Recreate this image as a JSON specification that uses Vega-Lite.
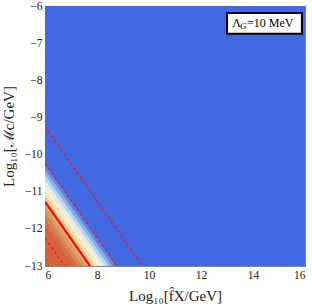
{
  "$schema": "https://vega.github.io/schema/vega-lite/v6.json",
  "width": 260,
  "height": 260,
  "autosize": "none",
  "padding": {"left": 45, "top": 6, "right": 7, "bottom": 41},
  "background": "white",
  "config": {
    "view": {"stroke": "#888", "strokeWidth": 1},
    "axis": {
      "grid": false,
      "domainColor": "#888",
      "tickColor": "#777",
      "labelFont": "Liberation Serif",
      "labelFontSize": 11.5,
      "labelColor": "#222",
      "titleFont": "Liberation Serif",
      "titleFontSize": 15,
      "titleFontWeight": "normal",
      "titleColor": "#222"
    }
  },
  "datasets": {
    "bg": [{"x": 6, "x2": 16, "y": -13, "y2": -6}],
    "bands": [
      {"b": "b01", "x": 6, "y": -10.26}, {"b": "b01", "x": 8.74, "y": -13},
      {"b": "b02", "x": 6, "y": -10.40}, {"b": "b02", "x": 8.60, "y": -13},
      {"b": "b03", "x": 6, "y": -10.54}, {"b": "b03", "x": 8.46, "y": -13},
      {"b": "b04", "x": 6, "y": -10.68}, {"b": "b04", "x": 8.32, "y": -13},
      {"b": "b05", "x": 6, "y": -10.82}, {"b": "b05", "x": 8.18, "y": -13},
      {"b": "b06", "x": 6, "y": -10.96}, {"b": "b06", "x": 8.04, "y": -13},
      {"b": "b07", "x": 6, "y": -11.10}, {"b": "b07", "x": 7.90, "y": -13},
      {"b": "b08", "x": 6, "y": -11.24}, {"b": "b08", "x": 7.76, "y": -13},
      {"b": "b09", "x": 6, "y": -11.40}, {"b": "b09", "x": 7.60, "y": -13},
      {"b": "b10", "x": 6, "y": -11.56}, {"b": "b10", "x": 7.44, "y": -13},
      {"b": "b11", "x": 6, "y": -11.72}, {"b": "b11", "x": 7.28, "y": -13},
      {"b": "b12", "x": 6, "y": -11.90}, {"b": "b12", "x": 7.10, "y": -13}
    ],
    "solid": [{"l": "s", "x": 6, "y": -11.27}, {"l": "s", "x": 7.73, "y": -13}],
    "dashed": [
      {"l": "d1", "x": 6, "y": -9.25}, {"l": "d1", "x": 9.75, "y": -13},
      {"l": "d2", "x": 6, "y": -10.24}, {"l": "d2", "x": 8.76, "y": -13},
      {"l": "d3", "x": 6, "y": -12.25}, {"l": "d3", "x": 6.75, "y": -13}
    ],
    "box": [{"x": 13.0, "x2": 15.88, "y": -6.19, "y2": -6.75}]
  },
  "layer": [
    {
      "data": {"name": "bg"},
      "mark": {"type": "rect", "color": "#4169E1"},
      "encoding": {
        "x": {"field": "x", "type": "quantitative", "scale": {"domain": [6, 16], "nice": false, "zero": false},
              "axis": {"orient": "bottom", "values": [6, 8, 10, 12, 14, 16], "tickSize": -4, "labelPadding": 7, "title": "Log₁₀[f̂X/GeV]", "titlePadding": 8}},
        "x2": {"field": "x2"},
        "y": {"field": "y", "type": "quantitative", "scale": {"domain": [-13, -6], "nice": false, "zero": false},
              "axis": {"orient": "left", "values": [-13, -12, -11, -10, -9, -8, -7, -6], "tickSize": -4, "labelPadding": 7, "title": "Log₁₀[ℳc/GeV]", "titlePadding": 8}},
        "y2": {"field": "y2"}
      }
    },
    {
      "data": {"name": "bands"},
      "mark": {"type": "area", "clip": true, "interpolate": "linear"},
      "encoding": {
        "x": {"field": "x", "type": "quantitative", "axis": null},
        "y": {"field": "y", "type": "quantitative", "axis": null, "stack": null},
        "y2": {"datum": -13},
        "color": {"field": "b", "type": "nominal", "legend": null,
          "scale": {"domain": ["b01","b02","b03","b04","b05","b06","b07","b08","b09","b10","b11","b12"],
                    "range": ["#5A87E6","#86AEEA","#B6D4EE","#DDECEF","#F3F0D4","#F2E2B0","#EBCB90","#E3B27A","#DD9A66","#D98655","#D67044","#D4623A"]}}
      }
    },
    {
      "data": {"name": "dashed"},
      "mark": {"type": "line", "clip": true, "color": "#EE1C24", "strokeWidth": 1.3, "strokeDash": [3, 2.5]},
      "encoding": {
        "x": {"field": "x", "type": "quantitative", "axis": null},
        "y": {"field": "y", "type": "quantitative", "axis": null},
        "detail": {"field": "l"}
      }
    },
    {
      "data": {"name": "solid"},
      "mark": {"type": "line", "clip": true, "color": "#FF0A0A", "strokeWidth": 2.2},
      "encoding": {
        "x": {"field": "x", "type": "quantitative", "axis": null},
        "y": {"field": "y", "type": "quantitative", "axis": null}
      }
    },
    {
      "data": {"name": "box"},
      "mark": {"type": "rect", "fill": "white", "stroke": "black", "strokeWidth": 2},
      "encoding": {
        "x": {"field": "x", "type": "quantitative",
              "axis": {"orient": "top", "values": [6, 8, 10, 12, 14, 16], "tickSize": -4, "labels": false, "title": null, "domain": false}},
        "x2": {"field": "x2"},
        "y": {"field": "y", "type": "quantitative",
              "axis": {"orient": "right", "values": [-13, -12, -11, -10, -9, -8, -7, -6], "tickSize": -4, "labels": false, "title": null, "domain": false}},
        "y2": {"field": "y2"}
      }
    },
    {
      "data": {"values": [{"x": 13.2, "y": -6.47, "t": "Λ"}]},
      "mark": {"type": "text", "align": "left", "baseline": "middle", "font": "Liberation Serif", "fontSize": 12, "color": "black"},
      "encoding": {
        "x": {"field": "x", "type": "quantitative", "axis": null},
        "y": {"field": "y", "type": "quantitative", "axis": null},
        "text": {"field": "t"}
      }
    },
    {
      "data": {"values": [{"x": 13.5, "y": -6.55, "t": "G"}]},
      "mark": {"type": "text", "align": "left", "baseline": "middle", "font": "Liberation Serif", "fontSize": 9, "fontStyle": "italic", "color": "black"},
      "encoding": {
        "x": {"field": "x", "type": "quantitative", "axis": null},
        "y": {"field": "y", "type": "quantitative", "axis": null},
        "text": {"field": "t"}
      }
    },
    {
      "data": {"values": [{"x": 13.77, "y": -6.47, "t": "=10 MeV"}]},
      "mark": {"type": "text", "align": "left", "baseline": "middle", "font": "Liberation Serif", "fontSize": 12, "color": "black"},
      "encoding": {
        "x": {"field": "x", "type": "quantitative", "axis": null},
        "y": {"field": "y", "type": "quantitative", "axis": null},
        "text": {"field": "t"}
      }
    }
  ],
  "resolve": {"axis": {"x": "independent", "y": "independent"}}
}
